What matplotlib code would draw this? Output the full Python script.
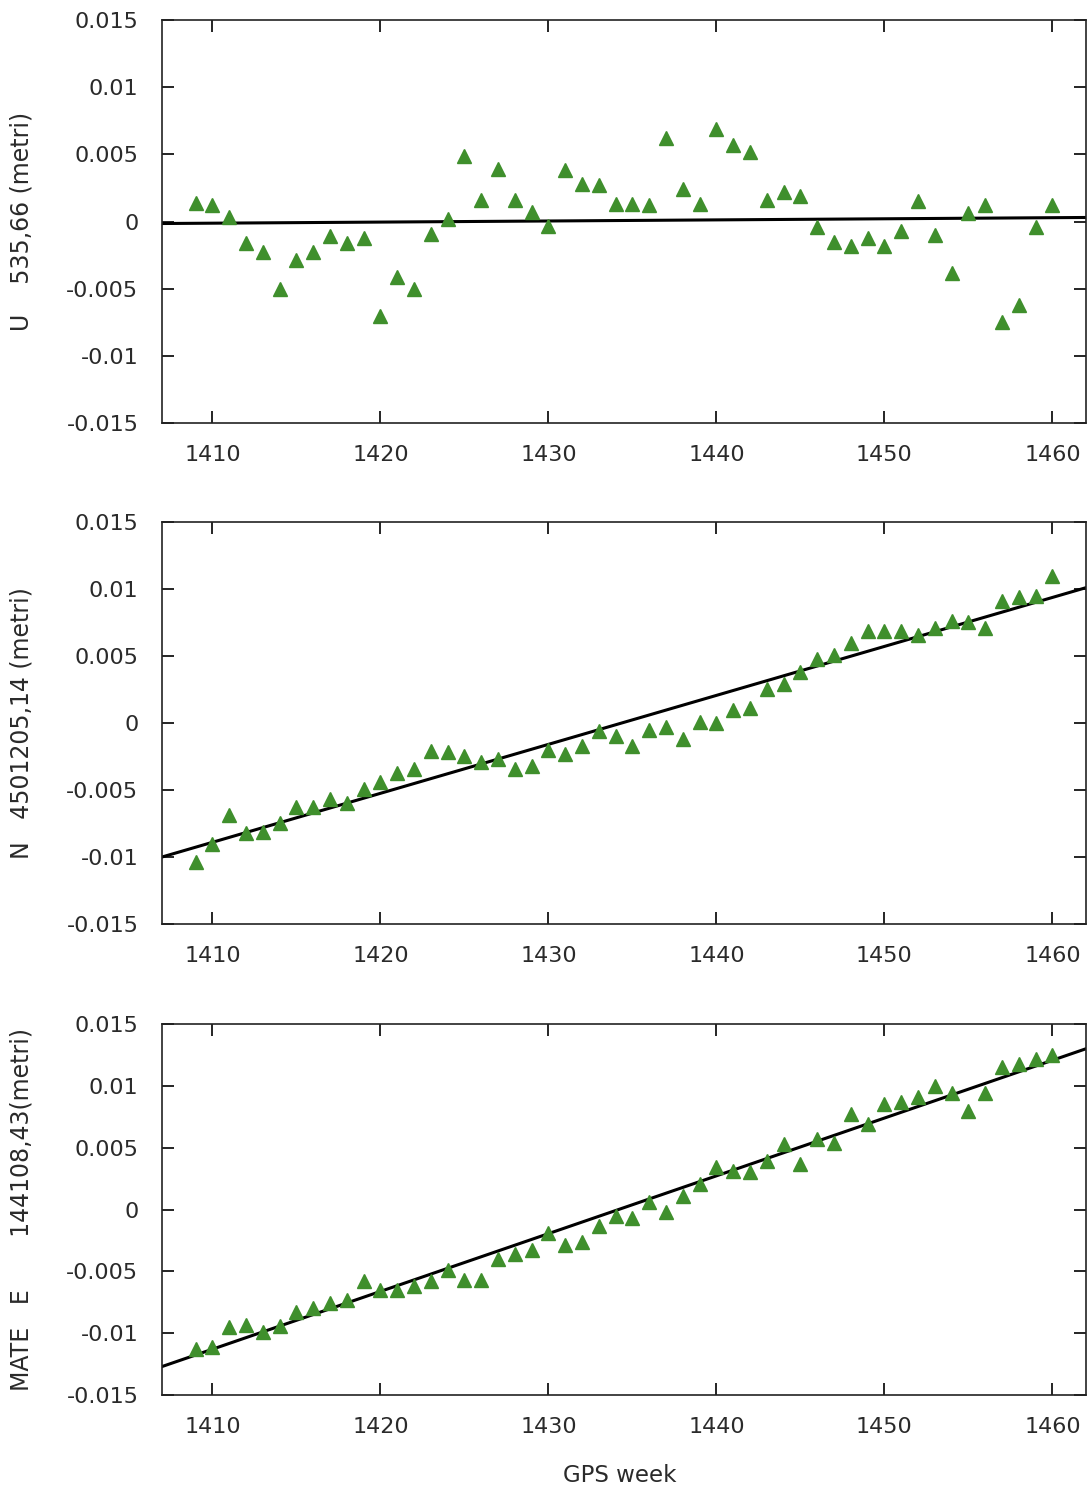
import numpy as np
import matplotlib.pyplot as plt

# GPS weeks
weeks = np.arange(1409, 1461)

# residui (metri)
u_vals = [0.0014, 0.0012, 0.0003, -0.0016, -0.0023, -0.0050, -0.0029, -0.0023, -0.0011, -0.0016,
          -0.0012, -0.0070, -0.0041, -0.0050, -0.0009, 0.0002, 0.0049, 0.0016, 0.0039, 0.0016,
          0.0007, -0.0003, 0.0038, 0.0028, 0.0027, 0.0013, 0.0013, 0.0012, 0.0062, 0.0024,
          0.0013, 0.0069, 0.0057, 0.0052, 0.0016, 0.0022, 0.0019, -0.0004, -0.0015, -0.0018,
          -0.0012, -0.0018, -0.0007, 0.0015, -0.0010, -0.0038, 0.0006, 0.0012, -0.0075, -0.0062,
          -0.0004, 0.0012]
n_vals = [-0.0104, -0.0090, -0.0069, -0.0082, -0.0081, -0.0075, -0.0063, -0.0063, -0.0057, -0.0060,
          -0.0049, -0.0044, -0.0037, -0.0034, -0.0021, -0.0022, -0.0025, -0.0029, -0.0027, -0.0034,
          -0.0032, -0.0020, -0.0023, -0.0017, -0.0006, -0.0010, -0.0017, -0.0005, -0.0003, -0.0012,
          0.0001, 0.0000, 0.0010, 0.0011, 0.0025, 0.0029, 0.0038, 0.0048, 0.0051, 0.0060,
          0.0069, 0.0069, 0.0069, 0.0066, 0.0071, 0.0076, 0.0075, 0.0071, 0.0091, 0.0094,
          0.0095, 0.0110]
e_vals = [-0.0113, -0.0111, -0.0095, -0.0093, -0.0099, -0.0094, -0.0083, -0.0080, -0.0076, -0.0073,
          -0.0058, -0.0065, -0.0065, -0.0062, -0.0058, -0.0049, -0.0057, -0.0057, -0.0040, -0.0036,
          -0.0033, -0.0019, -0.0029, -0.0026, -0.0013, -0.0005, -0.0007, 0.0006, -0.0002, 0.0011,
          0.0021, 0.0034, 0.0031, 0.0030, 0.0039, 0.0053, 0.0037, 0.0057, 0.0054, 0.0077,
          0.0069, 0.0085, 0.0087, 0.0091, 0.0100, 0.0094, 0.0080, 0.0094, 0.0115, 0.0118,
          0.0122, 0.0125]

# rette di tendenza (estremi)
trend_x = [1407, 1462]
u_trend = [-0.00015, 0.0003]
n_trend = [-0.0100, 0.0101]
e_trend = [-0.0127, 0.0130]

ylabels = ["U    535,66 (metri)", "N   4501205,14 (metri)", "MATE   E       144108,43(metri)"]
yticks = [-0.015, -0.01, -0.005, 0, 0.005, 0.01, 0.015]
ytick_labels = ["-0.015", "-0.01", "-0.005", "0", "0.005", "0.01", "0.015"]
xticks = [1410, 1420, 1430, 1440, 1450, 1460]

W, H = 1089, 1490
fig = plt.figure(figsize=(W / 100, H / 100), dpi=100)

# posizioni pannelli in pixel: (top, bottom)
boxes = [(20, 423), (522, 924), (1024, 1395)]
left, right = 162, 1086
series = [(u_vals, u_trend), (n_vals, n_trend), (e_vals, e_trend)]
green = '#3f8f2c'
txt = '#2a2a2a'

for (top, bot), (vals, trend), lab in zip(boxes, series, ylabels):
    ax = fig.add_axes([left / W, 1 - bot / H, (right - left) / W, (bot - top) / H])
    ax.plot(trend_x, trend, color='black', lw=2.2, zorder=2)
    ax.plot(weeks, vals, linestyle='none', marker='^', markersize=10.5,
            color=green, markeredgecolor=green, zorder=3)
    ax.set_xlim(1407, 1462)
    ax.set_ylim(-0.015, 0.015)
    ax.set_yticks(yticks)
    ax.set_yticklabels(ytick_labels)
    ax.set_xticks(xticks)
    ax.tick_params(direction='in', length=8.5, width=1.2, top=True, right=True,
                   labelsize=16, labelcolor=txt)
    ax.tick_params(axis='y', pad=17)
    ax.tick_params(axis='x', pad=16)
    for s in ax.spines.values():
        s.set_linewidth(1.2)
        s.set_color('#222222')
    ax.set_ylabel(lab, fontsize=17, color=txt)
    ax.yaxis.set_label_coords((34 - left) / (right - left), 0.5)

fig.text(620 / W, 1 - 1475 / H, "GPS week", ha='center', va='center', fontsize=16.5, color=txt)

fig.savefig('out.png', dpi=100)
